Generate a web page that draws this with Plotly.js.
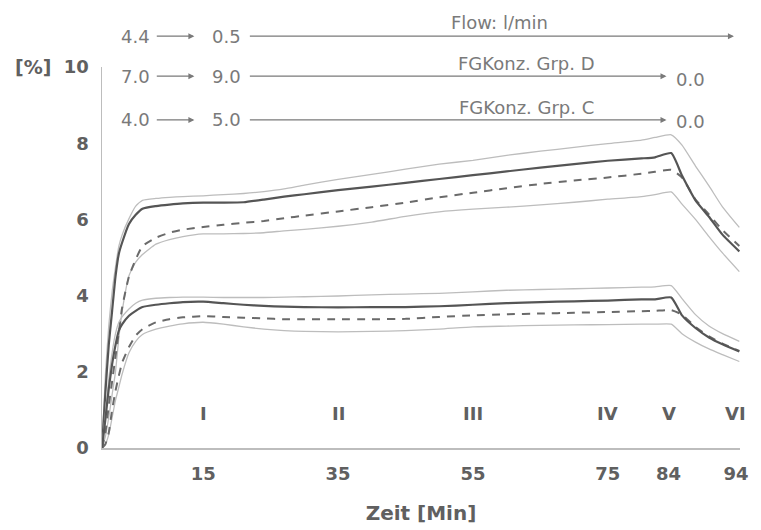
<!DOCTYPE html>
<html>
<head>
<meta charset="utf-8">
<script src="https://cdn.plot.ly/plotly-3.0.1.min.js"></script>
<style>html,body{margin:0;padding:0;background:#fff;}#chart{width:761px;height:530px;}</style>
</head>
<body>
<div id="chart"></div>
<script>
// time axis (minutes)
const time = [0, 0.5, 1, 1.5, 2, 2.5, 3, 4, 5, 6, 8, 10, 12, 15, 18, 21, 24, 27, 30, 35, 40, 45, 50, 55, 60, 65, 70, 75, 80, 82, 84.4, 86, 88, 90, 92, 94.5];

// Group D (upper bundle)
const dUpper = [0, 1.9, 3.2, 4.1, 4.75, 5.3, 5.6, 6.02, 6.35, 6.5, 6.55, 6.58, 6.6, 6.62, 6.65, 6.68, 6.73, 6.8, 6.9, 7.05, 7.18, 7.32, 7.45, 7.55, 7.68, 7.79, 7.89, 7.99, 8.08, 8.15, 8.22, 7.95, 7.4, 6.88, 6.33, 5.79];
const dMean = [0, 1.45, 2.7, 3.6, 4.5, 5.1, 5.4, 5.88, 6.12, 6.28, 6.35, 6.39, 6.42, 6.44, 6.44, 6.45, 6.52, 6.6, 6.66, 6.77, 6.86, 6.96, 7.06, 7.16, 7.26, 7.36, 7.45, 7.54, 7.6, 7.63, 7.74, 7.15, 6.5, 6.07, 5.6, 5.16];
const dMean2 = [0, 0.4, 1.1, 1.75, 2.4, 3.05, 3.7, 4.5, 4.95, 5.3, 5.52, 5.65, 5.73, 5.8, 5.86, 5.91, 5.96, 6.03, 6.1, 6.21, 6.32, 6.44, 6.58, 6.7, 6.82, 6.93, 7.02, 7.1, 7.2, 7.25, 7.3, 7.1, 6.52, 6.13, 5.72, 5.3];
const dLower = [0, 0.3, 0.8, 1.4, 2.0, 2.9, 3.6, 4.52, 4.88, 5.08, 5.35, 5.47, 5.55, 5.62, 5.62, 5.63, 5.65, 5.7, 5.74, 5.82, 5.93, 6.08, 6.2, 6.27, 6.32, 6.38, 6.45, 6.53, 6.6, 6.65, 6.72, 6.4, 6.0, 5.55, 5.12, 4.63];

// Group C (lower bundle)
const cUpper = [0, 0.9, 1.8, 2.5, 3.0, 3.3, 3.45, 3.65, 3.8, 3.88, 3.93, 3.95, 3.96, 3.96, 3.95, 3.95, 3.95, 3.96, 3.97, 3.99, 4.02, 4.04, 4.06, 4.1, 4.14, 4.16, 4.18, 4.2, 4.22, 4.23, 4.26, 3.92, 3.5, 3.2, 3.0, 2.8];
const cMean = [0, 0.75, 1.55, 2.2, 2.7, 3.08, 3.25, 3.47, 3.6, 3.7, 3.76, 3.8, 3.83, 3.84, 3.8, 3.76, 3.73, 3.71, 3.7, 3.69, 3.7, 3.7, 3.72, 3.76, 3.8, 3.83, 3.85, 3.87, 3.9, 3.9, 3.95, 3.48, 3.15, 2.9, 2.72, 2.53];
const cMean2 = [0, 0.1, 0.4, 1.0, 1.5, 1.9, 2.25, 2.65, 2.95, 3.12, 3.3, 3.38, 3.43, 3.46, 3.44, 3.42, 3.4, 3.38, 3.38, 3.38, 3.38, 3.39, 3.44, 3.48, 3.51, 3.53, 3.55, 3.57, 3.59, 3.6, 3.62, 3.5, 3.18, 2.93, 2.74, 2.55];
const cLower = [0, 0.1, 0.35, 0.8, 1.25, 1.6, 1.95, 2.5, 2.8, 2.98, 3.12, 3.2, 3.26, 3.3, 3.25, 3.18, 3.12, 3.08, 3.06, 3.05, 3.06, 3.08, 3.12, 3.18, 3.2, 3.22, 3.23, 3.24, 3.25, 3.25, 3.25, 3.0, 2.78, 2.6, 2.45, 2.27];

// axis ticks
const xTicks = [15, 35, 55, 75, 84, 94];
const yTicks = [0, 2, 4, 6, 8, 10];

// phase labels
const phaseX = [15, 35, 55, 75, 84, 94];
const phaseLabels = ['I', 'II', 'III', 'IV', 'V', 'VI'];

// top settings rows
const rowLabels = ['Flow: l/min', 'FGKonz. Grp. D', 'FGKonz. Grp. C'];
const rowStart = ['4.4', '7.0', '4.0'];
const rowMid = ['0.5', '9.0', '5.0'];
const rowEnd = ['', '0.0', '0.0'];

const FONT = 'DejaVu Sans, Arial, sans-serif';
const lightStyle = {color: '#bdbdbd', width: 1.3};
const solidStyle = {color: '#555555', width: 2.2};
const dashStyle = {color: '#6a6a6a', width: 2, dash: '8px,7px'};

function tr(y, line) {
  return {x: time, y: y, mode: 'lines', line: Object.assign({shape: 'spline', smoothing: 0.5}, line), hoverinfo: 'skip', showlegend: false};
}
const data = [
  tr(dUpper, lightStyle), tr(dLower, lightStyle), tr(dMean2, dashStyle), tr(dMean, solidStyle),
  tr(cUpper, lightStyle), tr(cLower, lightStyle), tr(cMean2, dashStyle), tr(cMean, solidStyle)
];

const annotations = [];
const topFont = {family: FONT, size: 18, color: '#7a7a7a'};
const boldFont = {family: FONT, size: 18, color: '#606060', weight: 'bold'};
function txt(x, y, yref, text, font) {
  return {x: x, y: y, xref: 'x', yref: yref, text: text, showarrow: false, xanchor: 'center', yanchor: 'middle', font: font};
}
function arrow(head, tail, y) {
  return {x: head, y: y, xref: 'x', yref: 'paper', axref: 'x', ax: tail, ayref: 'pixel', ay: 0, text: '', showarrow: true,
          arrowhead: 2, arrowsize: 1, arrowwidth: 1.2, arrowcolor: '#7a7a7a', standoff: 0, startstandoff: 0};
}
phaseX.forEach((x, i) => annotations.push(txt(x, 0.9, 'y', phaseLabels[i], boldFont)));

// row geometry (paper y) and arrow positions (data x)
const rowY = [1.081, 0.976, 0.861];
const labelY = [1.118, 1.010, 0.895];
const labelX = [59, 63, 63];
const endY = [0, 0.966, 0.856];
const longHead = [93.7, 83.7, 83.7];
rowY.forEach((yy, i) => {
  annotations.push(txt(5.0, yy, 'paper', rowStart[i], topFont));
  annotations.push(arrow(13.7, 7.9, yy));
  annotations.push(txt(18.5, yy, 'paper', rowMid[i], topFont));
  annotations.push(arrow(longHead[i], 21.7, yy));
  annotations.push(txt(labelX[i], labelY[i], 'paper', rowLabels[i], topFont));
  if (rowEnd[i]) annotations.push(txt(87.2, endY[i], 'paper', rowEnd[i], topFont));
});
annotations.push({x: -0.108, y: 1.0, xref: 'paper', yref: 'paper', xanchor: 'center', yanchor: 'middle', text: '[%]', showarrow: false, font: {family: FONT, size: 19, color: '#606060', weight: 'bold'}});

const layout = {
  width: 761, height: 530,
  margin: {l: 102, r: 21, t: 67, b: 82, pad: 0},
  paper_bgcolor: '#ffffff', plot_bgcolor: '#ffffff',
  showlegend: false,
  xaxis: {
    range: [0, 94.6], tickvals: xTicks, ticktext: xTicks.map(String),
    showgrid: false, zeroline: false, showline: true, linecolor: '#bdbdbd', linewidth: 1.5,
    ticks: 'outside', ticklen: 9, tickcolor: 'rgba(0,0,0,0)',
    tickfont: {family: FONT, size: 18, color: '#606060', weight: 'bold'},
    title: {text: 'Zeit [Min]', font: {family: FONT, size: 20, color: '#606060', weight: 'bold'}, standoff: 23}
  },
  yaxis: {
    range: [0, 10], tickvals: yTicks, ticktext: yTicks.map(String),
    showgrid: false, zeroline: false, showline: true, linecolor: '#bdbdbd', linewidth: 1.5,
    ticks: 'outside', ticklen: 8, tickcolor: 'rgba(0,0,0,0)',
    tickfont: {family: FONT, size: 18, color: '#606060', weight: 'bold'}
  },
  annotations: annotations
};

Plotly.newPlot('chart', data, layout, {displayModeBar: false, staticPlot: true});
</script>
</body>
</html>
